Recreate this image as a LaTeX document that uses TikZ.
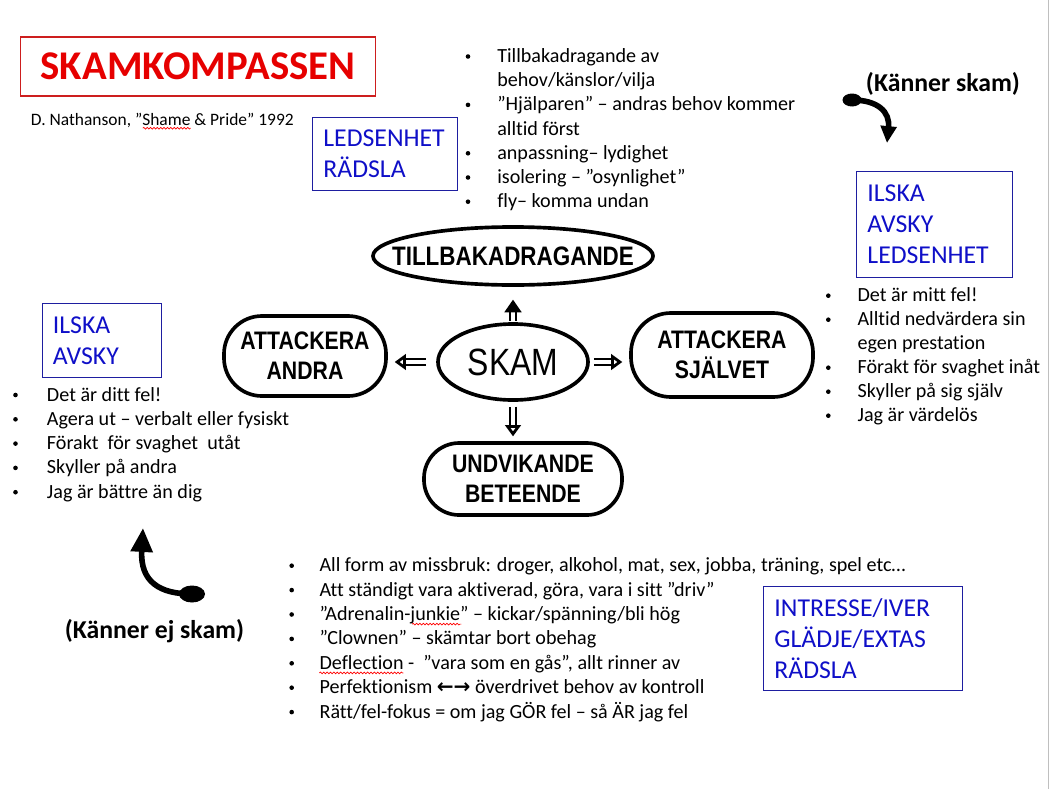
\documentclass[tikz,border=0pt]{standalone}
\usepackage{fontspec}
\setmainfont{Carlito}[Ligatures={NoCommon}]
\newfontfamily\handfont[FakeStretch=0.84]{Liberation Sans}
\newfontfamily\arrowfont{DejaVu Sans}
\usetikzlibrary{positioning,arrows.meta,shapes.geometric,decorations.pathmorphing}
\definecolor{titlered}{RGB}{230,0,0}
\definecolor{boxred}{RGB}{205,30,30}
\definecolor{emoblue}{RGB}{15,15,200}
\definecolor{boxblue}{RGB}{30,30,160}
\tikzset{
  >=Stealth,
  listtext/.style={anchor=base west, inner sep=0pt, font=\fontsize{14.3pt}{17pt}\selectfont},
  bulletdot/.style={circle, fill, inner sep=0pt, minimum size=0.115cm},
  emobox/.style={draw=boxblue, line width=0.9pt, text=emoblue, align=left,
    anchor=north west, inner xsep=0.27cm, inner ysep=0pt,
    font=\fontsize{18.3pt}{22pt}\selectfont},
  blobnode/.style={draw, ellipse, line width=2.6pt, inner sep=0pt},
  blobbox/.style={draw, rectangle, rounded corners=#1, line width=2.6pt, inner sep=0pt},
  handtext/.style={inner sep=0pt, align=center, font=\handfont\bfseries\fontsize{18pt}{21.5pt}\selectfont},
  shamearrow/.style={line width=1.6pt, double, double distance=2.2pt,
    -{Triangle[open, length=8pt, width=11pt, line width=2pt]}},
  feelarrow/.style={line width=4pt, line cap=round},
  squiggle/.style={red, line width=0.5pt, decorate,
    decoration={snake, amplitude=0.6pt, segment length=2.4pt}},
}
\begin{document}
\begin{tikzpicture}[x=0.025cm, y=-0.025cm]
\useasboundingbox (0,0) rectangle (1050,789);
\fill[white] (0,0) rectangle (1050,789);
\draw[gray!50] (1048,0) -- (1048,789);

% title
\node[draw=boxred, line width=0.9pt, text=titlered, minimum width=8.875cm, minimum height=1.475cm,
  font=\bfseries\fontsize{29pt}{34pt}\selectfont] (title) at (198,66.5) {SKAMKOMPASSEN};
\node[anchor=base west, inner sep=0pt, font=\fontsize{12.4pt}{15pt}\selectfont] (source) at (30.7,125)
  {D. Nathanson, ”Shame \& Pride” 1992};
\draw[squiggle] ([xshift=2.8cm, yshift=-0.08cm]source.base west) -- ++(1.2cm,0);

% the compass
\node[blobnode, minimum width=7cm, minimum height=1.45cm] (tillbaka) at (513,256) {};
\node[blobnode, minimum width=3.75cm, minimum height=1.9cm] (skam) at (513,362) {};
\node[blobbox=0.95cm, minimum width=4.05cm, minimum height=2cm] (andra) at (305,356) {};
\node[blobbox=1cm, minimum width=4.55cm, minimum height=2.1cm] (sjalvet) at (722,355) {};
\node[blobbox=0.88cm, minimum width=4.95cm, minimum height=1.8cm] (undvik) at (523,479) {};

\node[handtext, font=\handfont\bfseries\fontsize{19pt}{22pt}\selectfont] at (tillbaka) {TILLBAKADRAGANDE};
\node[handtext, font=\handfont\fontsize{27pt}{30pt}\selectfont] at (skam) {SKAM};
\node[handtext] at (andra) {ATTACKERA\\ANDRA};
\node[handtext] at (sjalvet) {ATTACKERA\\SJÄLVET};
\node[handtext] at (undvik) {UNDVIKANDE\\BETEENDE};

\draw[shamearrow, -{Triangle[length=9pt, width=12pt]}, shorten <=0.03cm, shorten >=0.32cm]
  (skam.north) -- (skam.north |- tillbaka.south);
\draw[shamearrow, shorten <=0.25cm, shorten >=0.17cm] (skam.west) -- (skam.west -| andra.east);
\draw[shamearrow, shorten <=0.1cm, shorten >=0.17cm] (skam.east) -- (skam.east -| sjalvet.west);
\draw[shamearrow, shorten <=0.12cm, shorten >=0.12cm] (skam.south) -- (skam.south |- undvik.north);

% top list
\node[emobox, text width=3.085cm, minimum height=1.825cm] (feeltop) at (312,117) {LEDSENHET\\RÄDSLA};
\foreach \txt [count=\k from 0] in {{Tillbakadragande av},{behov/känslor/vilja},
  {”Hjälparen” – andras behov kommer},{alltid först},{anpassning– lydighet},
  {isolering – ”osynlighet”},{fly– komma undan}}
  \node[listtext] (top\k) at (497,62.5+24.2*\k) {\txt};
\foreach \k in {0,2,4,5,6}
  \node[bulletdot] at ([xshift=-0.725cm, yshift=0.15cm]top\k.base west) {};

% right side
\node[anchor=base west, inner sep=0pt, font=\bfseries\fontsize{18.3pt}{22pt}\selectfont] (kanner) at (865.7,91.7) {(Känner skam)};
\coordinate (kstail) at (852,100);
\coordinate (kstip) at (887,143);
\fill (kstail) ellipse [x radius=9.5, y radius=6.5];
\draw[feelarrow, -{Triangle[length=12pt, width=11pt]}] (kstail) .. controls (878,100) and (890,112) .. (kstip);
\node[emobox, text width=3.36cm, minimum height=2.65cm] (feelright) at (856,171) {ILSKA\\AVSKY\\LEDSENHET};
\foreach \txt [count=\k from 0] in {{Det är mitt fel!},{Alltid nedvärdera sin},{egen prestation},
  {Förakt för svaghet inåt},{Skyller på sig själv},{Jag är värdelös}}
  \node[listtext] (right\k) at (857.3,301.7+24*\k) {\txt};
\foreach \k in {0,1,3,4,5}
  \node[bulletdot] at ([xshift=-0.725cm, yshift=0.15cm]right\k.base west) {};

% left side
\node[emobox, text width=2.435cm, minimum height=1.85cm] (feelleft) at (41.5,303) {ILSKA\\AVSKY};
\foreach \txt [count=\k from 0] in {{Det är ditt fel!},{Agera ut – verbalt eller fysiskt},
  {Förakt\ \ för svaghet\ \ utåt},{Skyller på andra},{Jag är bättre än dig}}
  \node[listtext] (left\k) at (46.7,401+24.3*\k) {\txt};
\foreach \k in {0,1,2,3,4}
  \node[bulletdot] at ([xshift=-0.78cm, yshift=0.15cm]left\k.base west) {};

\coordinate (kestail) at (192,594);
\coordinate (kestip) at (143,528);
\fill (kestail) ellipse [x radius=13, y radius=8.5];
\draw[feelarrow, -{Triangle[length=17pt, width=15pt]}] (kestail) .. controls (160,594) and (140,582) .. (kestip);
\node[anchor=base, inner sep=0pt, font=\bfseries\fontsize{18.3pt}{22pt}\selectfont] (kannerej) at (154.5,638.5) {(Känner ej skam)};

% bottom list
\foreach \txt [count=\k from 0] in {{All form av missbruk: droger, alkohol, mat, sex, jobba, träning, spel etc…},
  {Att ständigt vara aktiverad, göra, vara i sitt ”driv”},
  {”Adrenalin-junkie” – kickar/spänning/bli hög},
  {”Clownen” – skämtar bort obehag},
  {Deflection -\ \ ”vara som en gås”, allt rinner av},
  {Perfektionism {\arrowfont\bfseries ←→} överdrivet behov av kontroll},
  {Rätt/fel-fokus = om jag GÖR fel – så ÄR jag fel}}
  \node[listtext] (bot\k) at (319.3,571.7+24.4*\k) {\txt};
\foreach \k in {0,1,2,3,4,5,6}
  \node[bulletdot] at ([xshift=-0.69cm, yshift=0.15cm]bot\k.base west) {};
\draw[squiggle] ([xshift=2.32cm, yshift=-0.09cm]bot2.base west) -- ++(1.23cm,0);
\draw[squiggle] ([yshift=-0.09cm]bot4.base west) -- ++(2.1cm,0);

\node[emobox, text width=4.435cm, minimum height=2.6cm] (feelbottom) at (763,586) {INTRESSE/IVER\\GLÄDJE/EXTAS\\RÄDSLA};

\end{tikzpicture}
\end{document}
